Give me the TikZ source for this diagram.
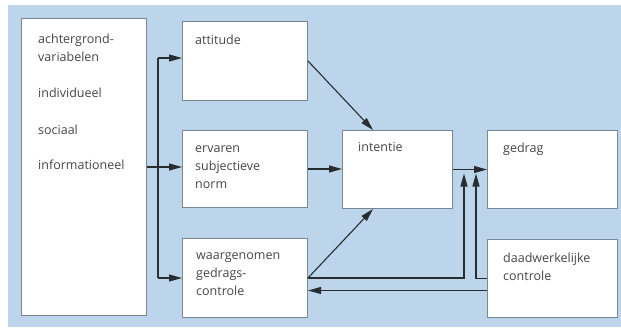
\documentclass[tikz,border=0pt]{standalone}
\usepackage{fontspec}
\setmainfont{Open Sans}
\usetikzlibrary{arrows.meta}
\definecolor{achtergrond}{RGB}{189,213,234}
\definecolor{rand}{RGB}{120,135,150}
\definecolor{tekstgrijs}{RGB}{70,70,70}
\definecolor{lijn}{RGB}{40,45,50}

\begin{document}
\begin{tikzpicture}[x=1pt,y=-1pt,
  blok/.style={draw=rand, fill=white, line width=1pt, anchor=north west, inner sep=0pt},
  tekst/.style={anchor=base west, text=tekstgrijs, font=\fontsize{12.5}{18}\selectfont, align=left, inner sep=0pt},
  pijl/.style={draw=lijn, line width=1.1pt, -{Triangle[length=13pt,width=7pt]}},
  lijnstuk/.style={draw=lijn, line width=1.1pt}]
\useasboundingbox (0,0) rectangle (621,327);
\fill[achtergrond] (8,5) rectangle (621,327);

% blokken
\node[blok, minimum width=125pt, minimum height=297pt] (achter) at (21,18) {};
\node[blok, minimum width=125pt, minimum height=79pt] (att) at (182,21) {};
\node[blok, minimum width=125pt, minimum height=77pt] (norm) at (182,130) {};
\node[blok, minimum width=125pt, minimum height=79pt] (waar) at (182,238) {};
\node[blok, minimum width=110pt, minimum height=78pt] (int) at (342,130) {};
\node[blok, minimum width=130pt, minimum height=78pt] (ged) at (487,130) {};
\node[blok, minimum width=130pt, minimum height=78pt] (daad) at (487,239) {};

% teksten (base = laatste regel)
\node[tekst] (t-achter) at (38,61) {achtergrond-\\variabelen};
\node[tekst] (t-indiv) at (38,97) {individueel};
\node[tekst] (t-sociaal) at (38,134) {sociaal};
\node[tekst] (t-info) at (38,169) {informationeel};
\node[tekst] (t-att) at (195,44) {attitude};
\node[tekst] (t-norm) at (195,188) {ervaren\\subjectieve\\norm};
\node[tekst] (t-waar) at (196,295) {waargenomen\\gedrags-\\controle};
\node[tekst] (t-int) at (358,151) {intentie};
\node[tekst] (t-ged) at (503,152) {gedrag};
\node[tekst] (t-daad) at (503,280) {daadwerkelijke\\controle};

% pijlen
\coordinate (splits) at (158,0);
\coordinate (attin) at ([yshift=3pt]att.west);
\draw[pijl] (achter.east) -- (achter.east -| norm.west);
\draw[lijnstuk] (splits |- attin) -- (splits |- waar.west);
\draw[pijl] (splits |- attin) -- (attin);
\draw[pijl] (splits |- waar.west) -- (waar.west);
\draw[pijl] (att.east) -- ([xshift=31pt]int.north west);
\draw[pijl] (norm.east) -- (norm.east -| int.west);
\draw[pijl] (waar.east) -- ([xshift=31pt]int.south west);
\draw[pijl] (int.east) -- (ged.west);
\draw[pijl] (waar.east) -| ([xshift=11pt,yshift=-4pt]int.east);
\draw[pijl] (daad.west) -| ([xshift=23pt,yshift=-4pt]int.east);
\draw[pijl] ([yshift=-12pt]daad.west) -- ([yshift=-12pt]daad.west -| waar.east);
\end{tikzpicture}
\end{document}
